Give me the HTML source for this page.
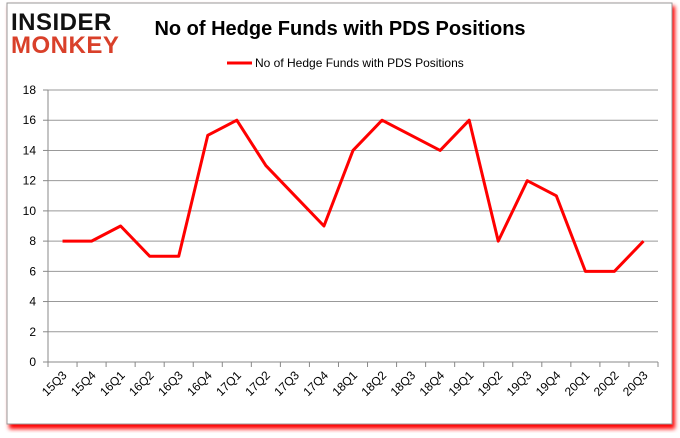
<!DOCTYPE html>
<html><head><style>
body{margin:0;background:#fff;}
svg text{font-family:"Liberation Sans",sans-serif;}
</style></head><body>
<svg width="680" height="433" xmlns="http://www.w3.org/2000/svg">
<defs><filter id="sh" x="-5%" y="-5%" width="110%" height="110%"><feGaussianBlur stdDeviation="2"/></filter></defs>
<rect x="9" y="6" width="666" height="423" fill="#f00" filter="url(#sh)"/>
<rect x="7" y="3" width="665" height="421" fill="#fff" stroke="#999"/>
<g>
<text x="11" y="30" font-size="24" font-weight="bold" fill="#111" letter-spacing="0.5">INSIDER</text>
<text x="11" y="53" font-size="24" font-weight="bold" fill="#d9402a" letter-spacing="0.5">MONKEY</text>
</g>
<text x="340" y="35" font-size="20" font-weight="bold" text-anchor="middle" fill="#000">No of Hedge Funds with PDS Positions</text>
<g>
<line x1="227" y1="63" x2="252" y2="63" stroke="#f00" stroke-width="3"/>
<text x="255" y="67" font-size="12" fill="#000">No of Hedge Funds with PDS Positions</text>
</g>
<g id="grid"></g><g id="axes"></g><g id="series"></g>
</svg>
<script>
const categories=["15Q3","15Q4","16Q1","16Q2","16Q3","16Q4","17Q1","17Q2","17Q3","17Q4","18Q1","18Q2","18Q3","18Q4","19Q1","19Q2","19Q3","19Q4","20Q1","20Q2","20Q3"];
const values=[8,8,9,7,7,15,16,13,11,9,14,16,15,14,16,8,12,11,6,6,8];
const yTicks=[0,2,4,6,8,10,12,14,16,18];
const NS="http://www.w3.org/2000/svg";
const L=48,R=658,T=90,B=362,YMAX=18;
const step=(R-L)/categories.length;
const x=i=>L+step*(i+0.5);
const y=v=>B-(v/YMAX)*(B-T);
function mk(t,a,p){const e=document.createElementNS(NS,t);for(const k in a)e.setAttribute(k,a[k]);document.getElementById(p).appendChild(e);return e;}
yTicks.forEach(v=>{
 const g=mk("line",{x1:L,x2:R,y1:y(v),y2:y(v),stroke:v===0?"#888":"#999","stroke-width":1},"grid");
 
 
 const tk=mk("line",{x1:L-5,x2:L,y1:y(v),y2:y(v),stroke:"#888"},"axes");
 
 
 const t=mk("text",{x:L-12,y:y(v)+4,"font-size":12,"text-anchor":"end",fill:"#000"},"axes");
 t.textContent=v;
 
 
});
const ax=mk("line",{x1:L,x2:L,y1:T,y2:B,stroke:"#888"},"axes");


for(let i=0;i<=categories.length;i++){
 const tk=mk("line",{x1:L+step*i,x2:L+step*i,y1:B,y2:B+5,stroke:"#888"},"axes");
 
 
}
categories.forEach((c,i)=>{
 const t=mk("text",{x:x(i)+5,y:B+14,"font-size":12,"text-anchor":"end",fill:"#000",transform:`rotate(-45 ${x(i)+5} ${B+14})`},"axes");
 t.textContent=c;
 
 
});
const pl=mk("polyline",{points:values.map((v,i)=>x(i)+","+y(v)).join(" "),fill:"none",stroke:"#f00","stroke-width":3,"stroke-linejoin":"round"},"series");


</script>
</body></html>
